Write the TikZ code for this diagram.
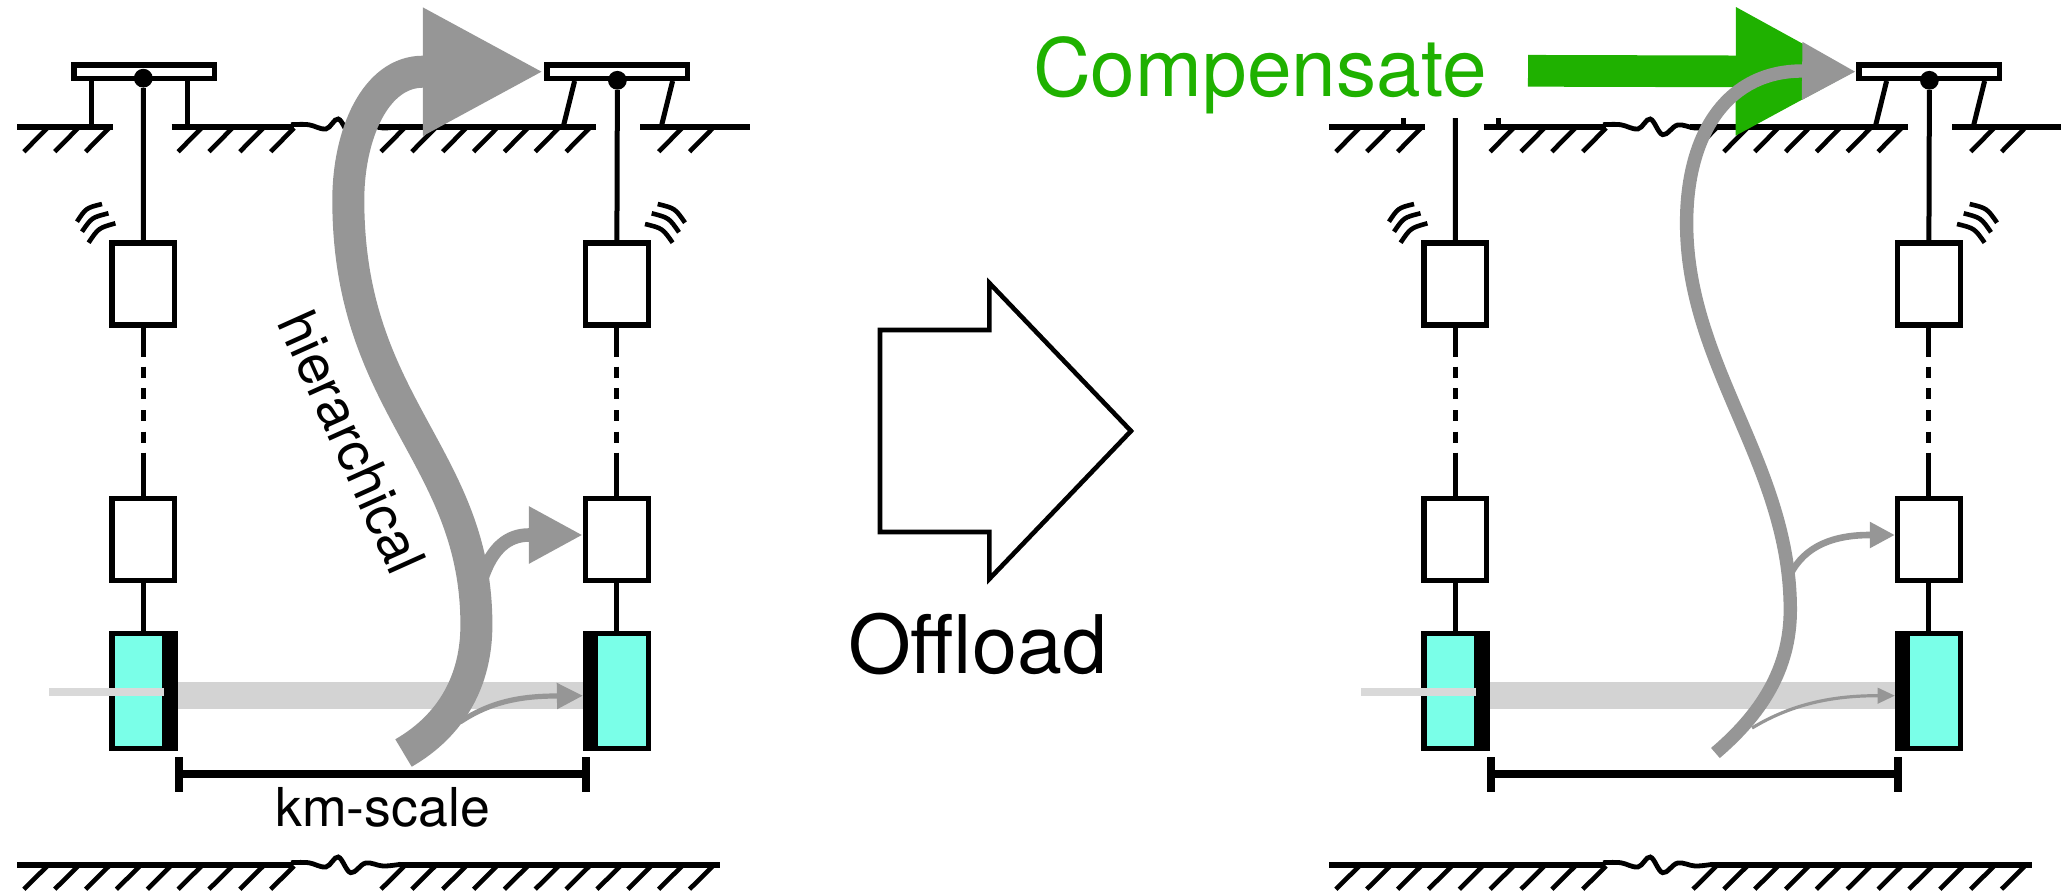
\documentclass[tikz,border=0pt]{standalone}
\usepackage{fontspec}
\setmainfont{TeX Gyre Heros}
\usetikzlibrary{arrows.meta}
\definecolor{arrowgray}{HTML}{969696}
\definecolor{beamc}{HTML}{D3D3D3}
\definecolor{stubc}{HTML}{D9D9D9}
\definecolor{mirrorc}{HTML}{7AFFE8}
\definecolor{greenc}{HTML}{1FB100}
\tikzset{
  rod/.style={line width=2.5pt,black},
  rodd/.style={rod,dash pattern=on 5.5pt off 5.33pt},
  gnd/.style={line width=2.7pt,black},
  hatchl/.style={line width=2.3pt,black},
  wig/.style={line width=2.4pt,black},
  arcw/.style={line width=2.3pt,black},
  boxn/.style={draw=black,fill=white,line width=2.7pt,minimum width=31.3pt,minimum height=41pt,inner sep=0pt},
  mirrorn/.style={draw=black,fill=mirrorc,line width=2.7pt,minimum width=31.3pt,minimum height=57.6pt,inner sep=0pt},
  platn/.style={draw=black,fill=white,line width=2.7pt,minimum width=70.2pt,minimum height=6.9pt,inner sep=0pt},
  dotn/.style={circle,fill=black,minimum size=9.4pt,inner sep=0pt},
  txt/.style={inner sep=0pt,anchor=base},
  grayarrow/.style={draw=arrowgray,fill=none},
}
\newcommand{\wiggleat}[1]{%
  \draw[wig,shift={(0,#1)}] plot[smooth,tension=0.6] coordinates{(291,-2.3) (308.5,-2.3) (325.9,2) (338.3,-8) (350.7,7.7) (365.7,-2) (383,1) (400.5,-0.7)};}
\newcommand{\panel}[2]{%
\begin{scope}[shift={(#2,0)},name prefix=#1-]
  % ground top
  \draw[gnd] (17,127) -- (113,127);
  \draw[gnd] (171.6,127) -- (293.5,127);
  \draw[gnd] (378,127) -- (595.5,127);
  \draw[gnd] (640.3,127) -- (749.8,127);
  \wiggleat{127}
  \foreach \k in {0,1,2,5,6,7,8} \draw[hatchl] ({47.3+30.85*\k},128) -- ++(-23.4,23.7);
  \foreach \j in {0,...,6} \draw[hatchl] ({404.4+30.85*\j},128) -- ++(-23.4,23.7);
  \foreach \j in {0,1} \draw[hatchl] ({682.1+30.85*\j},128) -- ++(-23.4,23.7);
  % ground bottom
  \draw[gnd] (17,865) -- (293,865);
  \draw[gnd] (400,865) -- (720,865);
  \wiggleat{865}
  \foreach \k in {0,...,8} \draw[hatchl] ({47.3+30.85*\k},866) -- ++(-23.4,23.2);
  \foreach \j in {0,...,10} \draw[hatchl] ({404.4+30.85*\j},866) -- ++(-23.4,23.2);
  % right platform
  \draw[rod] (574.6,81) -- (563.2,127);
  \draw[rod] (672.6,81) -- (661.2,127);
  \node[platn] (platR) at (617,71.7) {};
  \node[dotn] (dotR) at (617.4,80.3) {};
  % boxes
  \node[boxn] (UL) at (143.25,284) {};
  \node[boxn] (BL) at (143.25,539.2) {};
  \node[boxn] (UR) at (616.9,284) {};
  \node[boxn] (BR) at (616.9,539.2) {};
  % beam
  \fill[beamc] (170,681.7) rectangle (590,709);
  \node[mirrorn] (ML) at (143.25,690.85) {};
  \node[mirrorn] (MR) at (616.9,690.85) {};
  \fill[black] (162.2,630.7) rectangle (178,751);
  \fill[black] (583,630.7) rectangle (598,751);
  \fill[stubc] (48.8,688.3) rectangle (164.2,696);
  % rods
  \draw[rod] (dotR) -- (UR.north);
  \foreach \s in {L,R}{
    \path (U\s.south) ++(0,29) coordinate (d1\s) ++(0,10) coordinate (d2\s) ++(0,76) coordinate (d3\s) ++(0,10) coordinate (d4\s);
    \draw[rod] (U\s.south) -- (d1\s);
    \draw[rodd] (d2\s) -- (d3\s);
    \draw[rod] (d4\s) -- (B\s.north);
    \path (M\s.north) ++(0,4.5) coordinate (m\s);
    \draw[rod] (B\s.south) -- (m\s);
  }
  % emission arcs
  \draw[arcw] (102,204) .. controls (86,208) .. (77,221.7);
  \draw[arcw] (108.5,213.3) .. controls (91.7,217.5) .. (82,231.7);
  \draw[arcw] (115.4,223.3) .. controls (98.5,228) .. (88.6,242.7);
  \draw[arcw] (657.7,204) .. controls (675,208.3) .. (685,222.7);
  \draw[arcw] (651.7,213.3) .. controls (669,217.8) .. (679,232.3);
  \draw[arcw] (645,224) .. controls (662.5,228.3) .. (672.6,242.7);
  % span bracket
  \coordinate (brL) at (179,774.3);
  \coordinate (brR) at (586,774.3);
  \draw[line width=4pt] (brL) -- (brR);
  \draw[line width=3.7pt] (179,757.3) -- (179,791.7);
  \draw[line width=3.7pt] (586,757.3) -- (586,791.7);
\end{scope}}
\begin{document}
\begin{tikzpicture}[x=0.5pt,y=-0.5pt]
\useasboundingbox (0,0) rectangle (2061,894);
\panel{L}{0}
\panel{R}{1312}
% left panel: platform above the left rod
\draw[rod] (91.5,81) -- (91.5,127);
\draw[rod] (187,81) -- (187,127);
\node[platn] (lplat) at (144.3,71.7) {};
\node[dotn] (ldot) at (143.3,78.2) {};
\draw[rod] (ldot) -- (L-UL.north);
% right panel: stubs, no platform
\draw[rod] (1403,118) -- (1403,127);
\draw[rod] (1498,118) -- (1498,127);
\coordinate (rtop) at (1455.3,118);
\draw[rod] (rtop) -- (R-UL.north);
% left arrows
\draw[grayarrow,line width=2.6pt,-{Triangle[length=13pt,width=12.5pt]}] (460,722) .. controls (490,702) and (520,696) .. (557,696) -- ([yshift=-2.4pt]L-MR.west);
\draw[grayarrow,line width=6.8pt,-{Triangle[length=27pt,width=26.7pt]}] (482,578) .. controls (492,548) and (508,535) .. (529,535) -- ([yshift=2.1pt]L-BR.west);
\draw[grayarrow,line width=16pt,-{Triangle[length=60.6pt,width=59.5pt]}] (403.5,753) .. controls (452,725) and (476.4,680) .. (476.4,625) .. controls (476.4,455) and (348.3,407) .. (348.3,200) .. controls (348.3,135) and (375,71.7) .. (423,71.7) -- (L-platR.west);
% right arrows
\draw[greenc,line width=15.85pt,-{Triangle[length=60.2pt,width=59.6pt]}] (1528,70.8) -- (R-platR.west);
\draw[grayarrow,line width=3.3pt,-{Triangle[length=12.5pt,width=12.3pt]}] (1790,575) .. controls (1805,545) and (1835,535) .. (1870,535) -- ([yshift=2.1pt]R-BR.west);
\draw[grayarrow,line width=1.6pt,-{Triangle[length=8.7pt,width=7.7pt]}] (1752,728) .. controls (1790,705) and (1830,695.7) .. (1877,695.7) -- ([yshift=-2.4pt]R-MR.west);
\draw[grayarrow,line width=6.7pt,-{Triangle[length=27pt,width=27pt]}] (1715.4,753) .. controls (1760,715) and (1790.3,670) .. (1790.3,610) .. controls (1790.3,464) and (1686.6,366.5) .. (1686.6,223) .. controls (1686.6,130) and (1730,71) .. (1802,71) -- (R-platR.west);
% outline arrow
\draw[line width=2.3pt,miter limit=10] (880,330) -- (989.3,330) -- (989.3,283) -- (1131,431) -- (989.3,579) -- (989.3,532) -- (880,532) -- cycle;
% texts
\node[txt,font=\fontsize{40.4pt}{44pt}\selectfont] (toff) at (977.5,673) {Offload};
\node[txt,font=\fontsize{40.1pt}{44pt}\selectfont,text=greenc] (tcomp) at (1260,96) {Compensate};
\node[txt,font=\fontsize{26.8pt}{30pt}\selectfont] (tkm) at (382.6,826.7) {km-scale};
\node[txt,font=\fontsize{27.5pt}{30pt}\selectfont,rotate=-65.8] (thier) at (334.2,450) {hierarchical};
\end{tikzpicture}
\end{document}
